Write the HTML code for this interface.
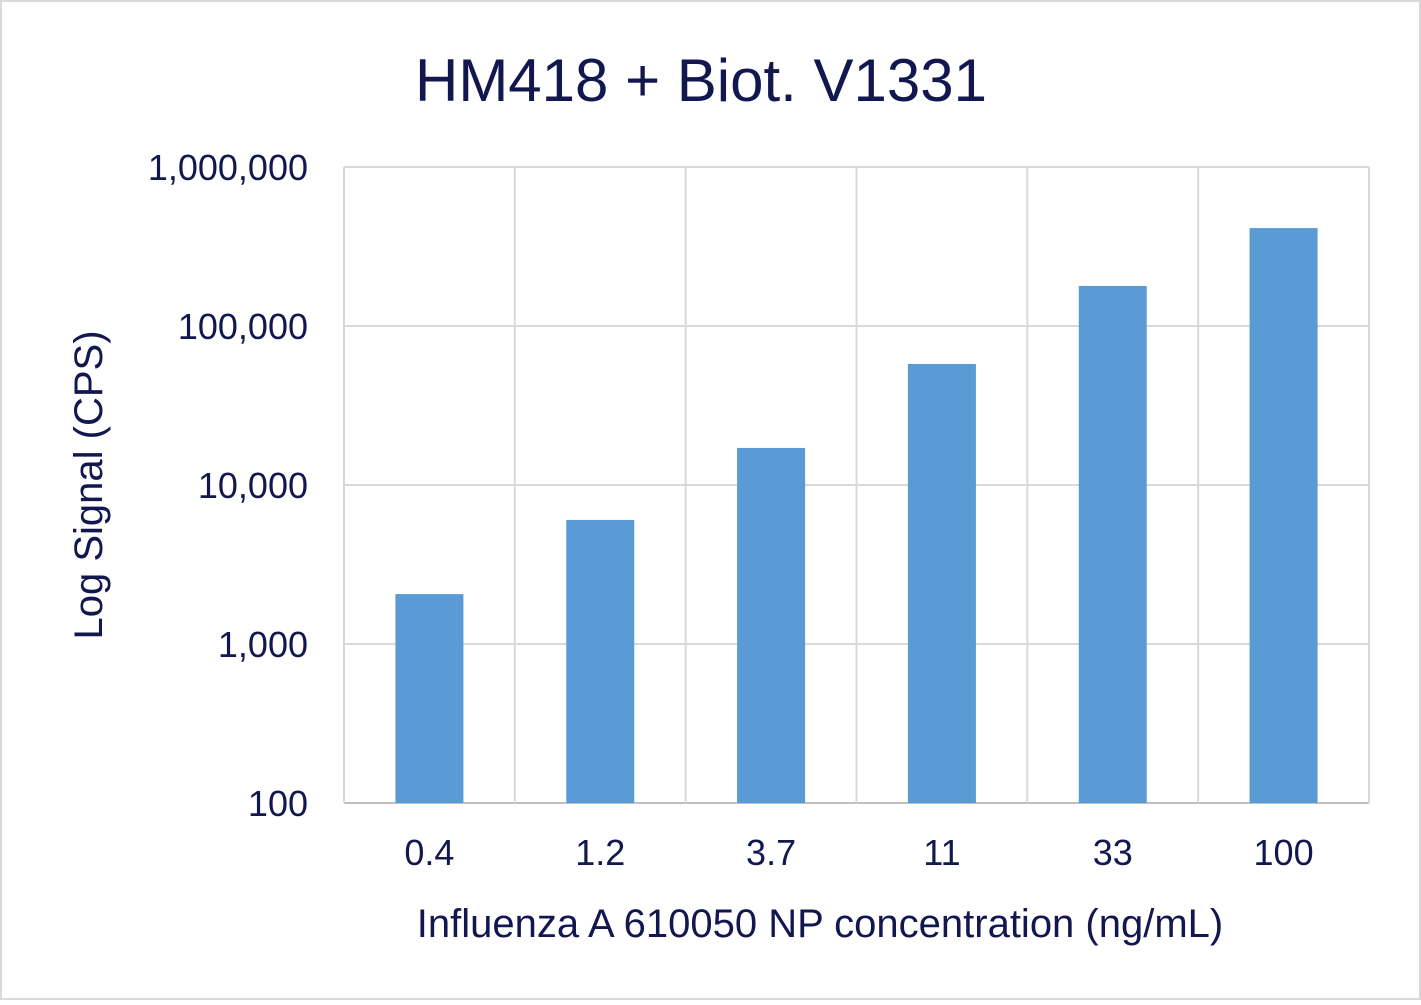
<!DOCTYPE html>
<html><head><meta charset="utf-8"><style>
body{margin:0;background:#fff}
svg text{font-family:"Liberation Sans",Arial,sans-serif;fill:#12184f}
</style></head><body>
<svg width="1421" height="1000">
<rect x="1" y="1" width="1419" height="998" fill="#fff" stroke="#d9d9d9" stroke-width="2"/>
<text x="701" y="101" font-size="60" text-anchor="middle">HM418 + Biot. V1331</text>
<g id="grid"></g><g id="bars"></g><g id="labels"></g>
<text transform="translate(102,485) rotate(-90)" font-size="40" text-anchor="middle">Log Signal (CPS)</text>
<text x="820" y="937" font-size="40" text-anchor="middle">Influenza A 610050 NP concentration (ng/mL)</text>
</svg>
<script>
const categories=["0.4","1.2","3.7","11","33","100"];
const values=[2060,6030,17100,57700,178600,413000];
const yTicks=[100,1000,10000,100000,1000000];
const yTickLabels=["100","1,000","10,000","100,000","1,000,000"];
const L=344,R=1369,T=167,B=803,minLog=2,maxLog=6;
const y=v=>B-(Math.log10(v)-minLog)/(maxLog-minLog)*(B-T);
const bw=(R-L)/categories.length;
const x=i=>L+bw*(i+0.5);
const NS="http://www.w3.org/2000/svg";
function mk(tag,attrs,parent){const e=document.createElementNS(NS,tag);for(const k in attrs)e.setAttribute(k,attrs[k]);document.getElementById(parent).appendChild(e);return e;}
yTicks.forEach((t,i)=>{
 const g=mk('line',{x1:L,x2:R,y1:y(t),y2:y(t),stroke:i===0?'#bfbfbf':'#d9d9d9','stroke-width':2},'grid');
 
 
 const tx=mk('text',{x:308,y:y(t)+13,'font-size':36,'text-anchor':'end'},'labels');
 tx.textContent=yTickLabels[i];
 
 
});
for(let i=0;i<=categories.length;i++){
 const v=mk('line',{x1:L+bw*i,x2:L+bw*i,y1:T,y2:B,stroke:'#d9d9d9','stroke-width':2},'grid');
 
 
}
categories.forEach((c,i)=>{
 const r=mk('rect',{x:x(i)-34,y:y(values[i]),width:68,height:B-y(values[i]),fill:'#5b9bd5'},'bars');
 
 
 const tx=mk('text',{x:x(i),y:865,'font-size':36,'text-anchor':'middle'},'labels');
 tx.textContent=c;
 
 
});
</script>
</body></html>
